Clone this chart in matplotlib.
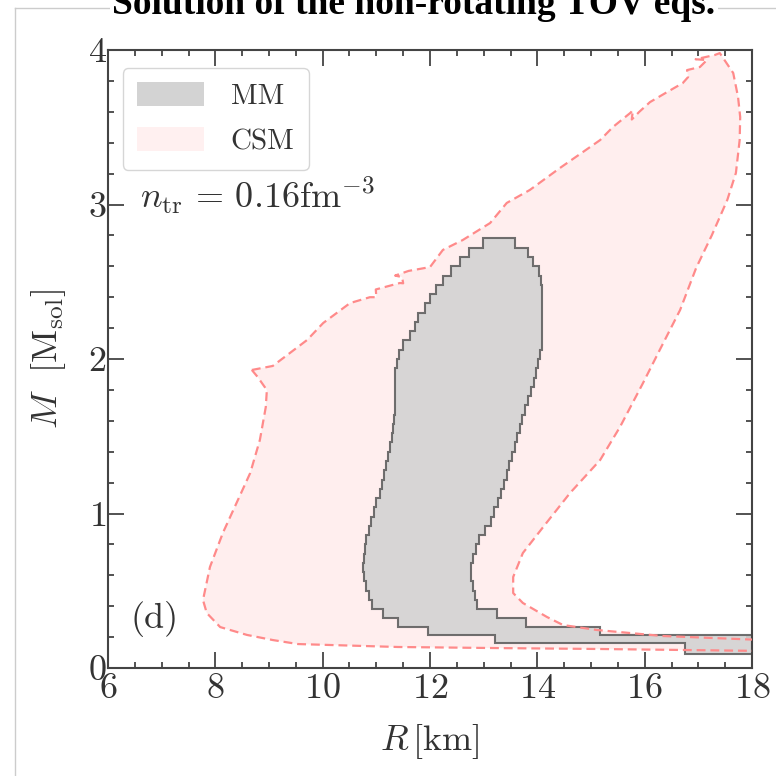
import numpy as np
import matplotlib
matplotlib.use('Agg')
import matplotlib.pyplot as plt
from matplotlib.patches import Patch
from matplotlib.lines import Line2D
from matplotlib.ticker import MultipleLocator

plt.rcParams.update({'font.family': 'serif', 'font.serif': ['cmr10'],
                     'mathtext.fontset': 'cm',
                     'axes.formatter.use_mathtext': True,
                     'axes.unicode_minus': False})

# CSM band outline (R [km], M [Msol])
csm_R = [8.68, 9.07, 9.39, 9.71, 10.01, 10.51, 10.88, 11.00, 10.99, 11.44, 11.50, 11.48,
         11.35, 11.60, 12.00, 12.24, 12.61, 13.12, 13.43, 13.86, 14.42, 15.17, 15.41,
         15.73, 15.78, 15.76, 15.90, 16.10, 16.42, 16.71, 16.81, 16.79, 17.03, 17.16,
         16.95, 17.31, 17.40, 17.65, 17.74, 17.78, 17.77, 17.70, 17.54, 17.25, 16.96,
         16.66, 16.28, 15.97, 15.54, 15.17, 14.61, 14.11, 13.73, 13.55, 13.55, 13.73,
         14.18, 14.48, 15.11, 16.34, 18.30, 18.30, 15.17, 13.25, 11.40, 9.54, 9.07,
         8.59, 8.09, 7.84, 7.77, 7.90, 8.14, 8.42, 8.65, 8.83, 8.94, 8.96, 8.79]
csm_M = [1.929, 1.955, 2.039, 2.123, 2.233, 2.362, 2.40, 2.40, 2.45, 2.492, 2.49, 2.53,
         2.54, 2.57, 2.595, 2.706, 2.770, 2.880, 3.010, 3.094, 3.236, 3.417, 3.502,
         3.592, 3.61, 3.55, 3.60, 3.663, 3.728, 3.786, 3.825, 3.87, 3.89, 3.935,
         3.94, 3.968, 3.98, 3.851, 3.696, 3.566, 3.417, 3.204, 3.030, 2.800, 2.590,
         2.317, 2.058, 1.845, 1.560, 1.346, 1.133, 0.913, 0.744, 0.589, 0.485, 0.421,
         0.330, 0.278, 0.246, 0.207, 0.180, 0.110, 0.123, 0.129, 0.136, 0.155, 0.181,
         0.214, 0.265, 0.356, 0.440, 0.654, 0.874, 1.087, 1.262, 1.476, 1.689, 1.799, 1.883]

# MM band: mass bin edges and radius limits per bin
mm_edges = [0.091, 0.162, 0.214, 0.265, 0.324, 0.382, 0.44, 0.50, 0.56, 0.62, 0.68,
            0.74, 0.80, 0.86, 0.92, 0.98, 1.04, 1.10, 1.16, 1.22, 1.28, 1.34, 1.40,
            1.46, 1.52, 1.58, 1.64, 1.70, 1.76, 1.82, 1.88, 1.94, 2.00, 2.06, 2.12,
            2.18, 2.24, 2.30, 2.36, 2.42, 2.48, 2.54, 2.60, 2.66, 2.72, 2.78]
mm_left = [16.75, 13.21, 11.96, 11.40, 11.12, 10.92,
           10.86, 10.80, 10.77, 10.75, 10.77, 10.78, 10.81, 10.86, 10.90, 10.95,
           11.00, 11.06, 11.11, 11.15, 11.18, 11.21, 11.25, 11.29, 11.31, 11.33,
           11.34, 11.35, 11.35, 11.35, 11.35, 11.38, 11.43, 11.50, 11.62, 11.72,
           11.78, 11.90, 12.00, 12.12, 12.25, 12.40, 12.55, 12.72, 12.99]
mm_right = [18.30, 18.30, 15.17, 13.79, 13.25, 12.88,
            12.84, 12.80, 12.76, 12.76, 12.80, 12.85, 12.92, 13.03, 13.13, 13.20,
            13.27, 13.33, 13.38, 13.43, 13.48, 13.53, 13.58, 13.63, 13.67, 13.72,
            13.77, 13.82, 13.88, 13.93, 13.97, 14.01, 14.05, 14.08, 14.09, 14.09,
            14.09, 14.09, 14.09, 14.08, 14.06, 14.03, 13.92, 13.83, 13.58]


def stairs_polygon(edges, left, right):
    xs, ys = [], []
    for i in range(len(right)):
        xs += [right[i], right[i]]
        ys += [edges[i], edges[i + 1]]
    for i in range(len(left) - 1, -1, -1):
        xs += [left[i], left[i]]
        ys += [edges[i + 1], edges[i]]
    return xs, ys


fig = plt.figure(figsize=(7.76, 7.76), dpi=100)
ax = fig.add_axes([108/776, 1 - 668/776, 644/776, 618/776])

red = '#ff8a8a'
ax.fill(csm_R, csm_M, facecolor='#ffeeee', edgecolor='none', zorder=1)
mx, my = stairs_polygon(mm_edges, mm_left, mm_right)
ax.fill(mx, my, facecolor='#d3d3d3', alpha=0.9, edgecolor='#606060',
        linewidth=1.5, zorder=2)
ax.plot(csm_R + csm_R[:1], csm_M + csm_M[:1], color=red, lw=1.6,
        linestyle=(0, (4, 2.2)), zorder=3)

ax.set_xlim(6, 18)
ax.set_ylim(0, 4)
ax.xaxis.set_major_locator(MultipleLocator(2))
ax.xaxis.set_minor_locator(MultipleLocator(0.5))
ax.yaxis.set_major_locator(MultipleLocator(1))
ax.yaxis.set_minor_locator(MultipleLocator(0.2))
ax.tick_params(which='both', direction='in', top=True, right=True,
               width=1.3, color='#444444', labelsize=26, labelcolor='#333333')
ax.tick_params(which='major', length=11.5)
ax.tick_params(which='minor', length=4.5)
ax.tick_params(axis='x', pad=4)
ax.tick_params(axis='y', pad=1)
for s in ax.spines.values():
    s.set_linewidth(1.5)
    s.set_color('#444444')

ax.set_xlabel(r'$R\,[\mathrm{km}]$', fontsize=26, labelpad=12, color='#333333')
ax.set_ylabel(r'$M\ \ [\mathrm{M_{sol}}]$', fontsize=26, labelpad=14, color='#333333')

ax.text(0.05, 0.745, r'$n_{\mathrm{tr}}\,=\,0.16\mathrm{fm}^{-3}$', transform=ax.transAxes,
        fontsize=26, color='#333333', va='baseline')
ax.text(0.035, 0.065, '(d)', transform=ax.transAxes, fontsize=26, color='#333333')

handles = [Patch(facecolor='#d3d3d3', edgecolor='none', label='MM'),
           Patch(facecolor='#fff0f0', edgecolor='none', label='CSM')]
ax.legend(handles=handles, loc='upper left', fontsize=21, handlelength=2.3,
          handleheight=0.85, handletextpad=0.9, labelspacing=0.6,
          borderpad=0.5, bbox_to_anchor=(0.0, 0.995), labelcolor='#333333')

# outer frame of the slide and the cut-off title
fig.add_artist(Line2D([15/776, 15/776], [0, 1 - 8/776], transform=fig.transFigure,
                      color='#cccccc', lw=1))
fig.add_artist(Line2D([15/776, 1], [1 - 8/776, 1 - 8/776], transform=fig.transFigure,
                      color='#cccccc', lw=1))
fig.text(414/776, 1 - 14/776, 'Solution of the non-rotating TOV eqs.',
         family='Liberation Serif', fontweight='bold', fontsize=27, ha='center',
         va='baseline', bbox=dict(facecolor='white', edgecolor='none', pad=2))

fig.savefig('out.png', dpi=100)
